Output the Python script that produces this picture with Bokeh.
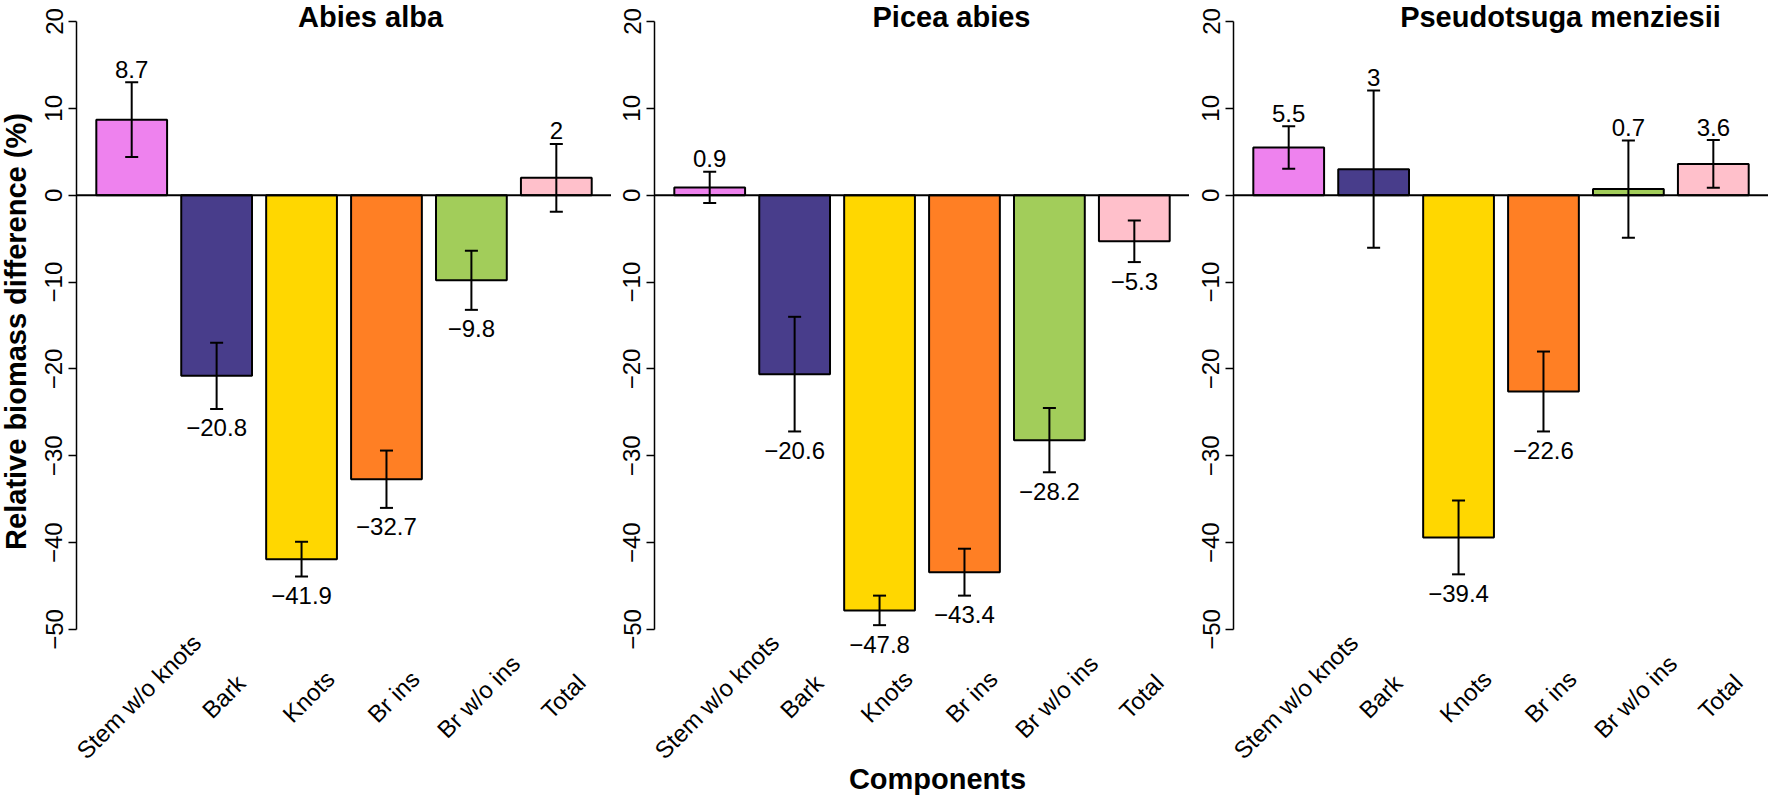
from bokeh.plotting import figure
from bokeh.layouts import row
from bokeh.models import Range1d, FixedTicker, Span, ColumnDataSource
from bokeh.core.properties import value
from bokeh.embed import file_html
from bokeh.resources import INLINE
import math

# ---------------- data ----------------
categories = ["Stem w/o knots", "Bark", "Knots", "Br ins", "Br w/o ins", "Total"]
bar_colors = ["#EE82EE", "#483D8B", "#FFD700", "#FF7F24", "#A2CD5A", "#FFC0CB"]
species = ["Abies alba", "Picea abies", "Pseudotsuga menziesii"]
abies_values = [8.7, -20.8, -41.9, -32.7, -9.8, 2]
abies_errors = [4.3, 3.8, 2.0, 3.3, 3.4, 3.9]
picea_values = [0.9, -20.6, -47.8, -43.4, -28.2, -5.3]
picea_errors = [1.8, 6.6, 1.7, 2.7, 3.7, 2.4]
pseudo_values = [5.5, 3, -39.4, -22.6, 0.7, 3.6]
pseudo_errors = [2.45, 9.05, 4.25, 4.6, 5.6, 2.75]
y_ticks = [-50, -40, -30, -20, -10, 0, 10, 20]
y_label = "Relative biomass difference (%)"
x_label = "Components"

# ---------------- layout constants ----------------
FONT = "Liberation Sans"
H = 795
PX_PER_UNIT = 70.77
PX_PER_Y = 8.686
Y_ZERO_PX = 194.7
Y_RANGE = (-(H - Y_ZERO_PX) / PX_PER_Y, Y_ZERO_PX / PX_PER_Y)
X_LEFT = -0.08
MINUS = "\u2212"
# title centre offsets (pixels from each panel's axis)
TITLE_DX = [294, 297, 327]
XLABEL_DX = 283


def fmt(v):
    s = f"{v:g}"
    return s.replace("-", MINUS)


def px_to_y(py):
    return (Y_ZERO_PX - py) / PX_PER_Y


def dx_to_x(dx):
    return X_LEFT + dx / PX_PER_UNIT


def make_panel(title, vals, errs, border_left, frame_w, title_dx, show_xlabel=False):
    width = border_left + frame_w
    p = figure(width=width, height=H, output_backend="svg", toolbar_location=None,
               x_range=Range1d(X_LEFT, X_LEFT + frame_w / PX_PER_UNIT),
               y_range=Range1d(*Y_RANGE), x_axis_location=None,
               min_border_left=border_left, min_border_right=0,
               min_border_top=0, min_border_bottom=0)
    p.outline_line_color = None
    p.grid.visible = False
    p.background_fill_color = "white"
    p.border_fill_color = "white"

    centers = [0.7 + 1.2 * i for i in range(len(categories))]
    src = ColumnDataSource(dict(x=centers, top=vals, color=bar_colors))
    p.vbar(x="x", width=1.0, top="top", bottom=0, fill_color="color",
           line_color="black", line_width=2, source=src)

    # error bars
    cap = 0.092
    lo = [v - e for v, e in zip(vals, errs)]
    hi = [v + e for v, e in zip(vals, errs)]
    p.segment(x0=centers, y0=lo, x1=centers, y1=hi, line_color="black", line_width=2)
    p.segment(x0=[c - cap for c in centers], y0=lo, x1=[c + cap for c in centers], y1=lo,
              line_color="black", line_width=2)
    p.segment(x0=[c - cap for c in centers], y0=hi, x1=[c + cap for c in centers], y1=hi,
              line_color="black", line_width=2)

    p.add_layout(Span(location=0, dimension="width", line_color="black", line_width=2))

    # value labels
    ly = [h if v > 0 else l for v, h, l in zip(vals, hi, lo)]
    loff = [-13 if v > 0 else 19 for v in vals]
    lsrc = ColumnDataSource(dict(x=centers, y=ly, t=[fmt(v) for v in vals], off=loff))
    p.text(x="x", y="y", text="t", y_offset="off", source=lsrc,
           text_align="center", text_baseline="middle",
           text_font=value(FONT), text_font_size="24px", text_color="black")

    # category labels (rotated)
    p.text(x=centers, y=[px_to_y(696)] * len(centers), text=categories, angle=math.pi / 4,
           x_offset=7, text_align="center", text_baseline="middle",
           text_font=value(FONT), text_font_size="24px", text_color="black")

    # title
    p.text(x=[dx_to_x(title_dx)], y=[px_to_y(0.5)], text=[title], text_align="center",
           text_baseline="top", text_font=value(FONT),
           text_font_style="bold", text_font_size="29px", text_color="black")

    if show_xlabel:
        p.text(x=[dx_to_x(XLABEL_DX)], y=[px_to_y(778)], text=[x_label], text_align="center",
               text_baseline="middle", text_font=value(FONT),
               text_font_style="bold", text_font_size="29px", text_color="black")

    ax = p.yaxis[0]
    ax.ticker = FixedTicker(ticks=y_ticks)
    ax.bounds = (min(y_ticks), max(y_ticks))
    ax.major_label_overrides = {t: fmt(t) for t in y_ticks}
    ax.major_label_orientation = "vertical"
    ax.major_label_text_font = FONT
    ax.major_label_text_font_size = "24px"
    ax.major_label_text_color = "black"
    ax.major_label_standoff = 6
    ax.major_tick_out = 8
    ax.major_tick_in = 0
    ax.minor_tick_out = 0
    ax.minor_tick_in = 0
    ax.axis_line_width = 1.5
    ax.major_tick_line_width = 1.5
    ax.axis_line_color = "black"
    ax.major_tick_line_color = "black"
    return p


# y-axis title strip
W0 = 34
p0 = figure(width=W0, height=H, output_backend="svg", toolbar_location=None,
            x_range=Range1d(0, W0), y_range=Range1d(0, H),
            x_axis_location=None, y_axis_location=None,
            min_border_left=0, min_border_right=0, min_border_top=0, min_border_bottom=0)
p0.outline_line_color = None
p0.grid.visible = False
p0.text(x=[15], y=[H - 331], text=[y_label], angle=math.pi / 2, text_align="center",
        text_baseline="middle", text_font=value(FONT), text_font_style="bold",
        text_font_size="29px", text_color="black")

p1 = make_panel(species[0], abies_values, abies_errors, 76 - W0, 535, TITLE_DX[0])
p2 = make_panel(species[1], picea_values, picea_errors, 43, 535, TITLE_DX[1], show_xlabel=True)
p3 = make_panel(species[2], pseudo_values, pseudo_errors, 44, 535, TITLE_DX[2])

layout = row(p0, p1, p2, p3, spacing=0)
open("out.html", "w").write(file_html(layout, INLINE))
